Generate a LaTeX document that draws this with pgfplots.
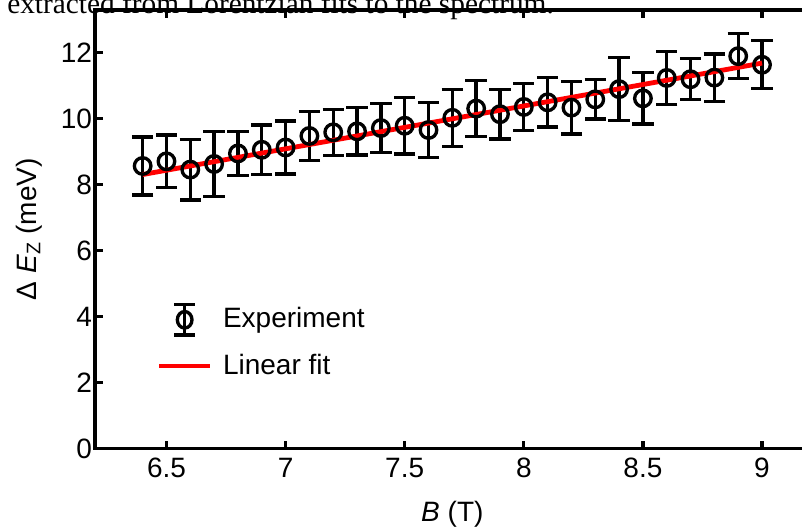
\documentclass[border=0pt]{standalone}
\usepackage{fontspec}
\setmainfont{Liberation Sans}
\newfontfamily\timesfont{Liberation Serif}
\usepackage{pgfplots}
\usepackage{pgfplotstable}
\pgfplotsset{compat=1.18}
\pgfplotstableread{
x y e
6.4 8.57 0.88
6.5 8.71 0.80
6.6 8.46 0.92
6.7 8.63 0.98
6.8 8.95 0.66
6.9 9.06 0.75
7.0 9.13 0.80
7.1 9.48 0.75
7.2 9.59 0.70
7.3 9.62 0.72
7.4 9.72 0.75
7.5 9.79 0.86
7.6 9.66 0.83
7.7 10.03 0.86
7.8 10.31 0.85
7.9 10.14 0.75
8.0 10.36 0.72
8.1 10.50 0.75
8.2 10.34 0.80
8.3 10.59 0.60
8.4 10.90 0.96
8.5 10.62 0.78
8.6 11.24 0.80
8.7 11.20 0.62
8.8 11.25 0.72
8.9 11.90 0.68
9.0 11.64 0.73
}\expdata
\pgfplotstableread{
x y
6.4 8.31
9.0 11.69
}\fitdata
\begin{document}
\fontsize{21}{25}\selectfont
\begin{tikzpicture}
\useasboundingbox (-71.25pt,-60.4pt) rectangle (530.25pt,336.4pt);
\clip (-71.25pt,-60.4pt) rectangle (530.25pt,336.4pt);
\begin{axis}[
  at={(0,0)}, anchor=south west,
  scale only axis, width=536pt, height=328.9pt,
  xmin=6.2, xmax=9.2, ymin=0, ymax=13.3,
  xtick={6.5,7,7.5,8,8.5,9}, ytick={0,2,4,6,8,10,12},
  /pgf/number format/assume math mode=true,
  tick label style={font=\fontsize{21}{25}\selectfont},
  yticklabel style={xshift=5pt},
  label style={font=\fontsize{21}{25}\selectfont},
  xlabel style={yshift=-3pt},
  axis line style={line width=2.4pt},
  every tick/.style={line width=2.4pt, black},
  major tick length=6pt,
  tick align=inside,
  xlabel={\textit{B} (T)},
  ylabel={Δ \textit{E}\textsubscript{Z} (meV)},
  legend cell align=left,
  legend style={draw=none, fill=none, inner sep=0pt, outer sep=0pt,
    at={(axis cs:6.46,4.42)}, anchor=north west,
    row sep=10.75pt, column sep=6pt,
    font=\fontsize{21}{25}\selectfont},
]
\addplot[black, only marks, mark=o, mark size=6.2pt,
  mark options={line width=2.5pt},
  legend image code/.code={
    \draw[black, line width=2.5pt] (19pt,-11.5pt) -- (19pt,11.5pt);
    \draw[black, line width=2.5pt] (11pt,-11.5pt) -- (27pt,-11.5pt);
    \draw[black, line width=2.5pt] (11pt,11.5pt) -- (27pt,11.5pt);
    \draw[black, line width=2.5pt] (19pt,0pt) ellipse (5.5pt and 6.2pt);
  },
  error bars/.cd, y dir=both, y explicit,
  error mark=-,
  error bar style={line width=2.5pt},
  error mark options={rotate=90, line width=2.5pt, mark size=8pt}]
  table[x=x, y=y, y error=e] {\expdata};
\addlegendentry{Experiment}
\addplot[red, line width=3.6pt,
  legend image code/.code={\draw[red, line width=3.6pt] (0pt,0pt) -- (38pt,0pt);}]
  table[x=x, y=y] {\fitdata};
\addlegendentry{Linear fit}
\end{axis}
\node[anchor=base west, inner sep=0pt, font=\timesfont\fontsize{22}{26}\selectfont] at (-66pt,325.9pt) {extracted from Lorentzian fits to the spectrum.};
\end{tikzpicture}
\end{document}
